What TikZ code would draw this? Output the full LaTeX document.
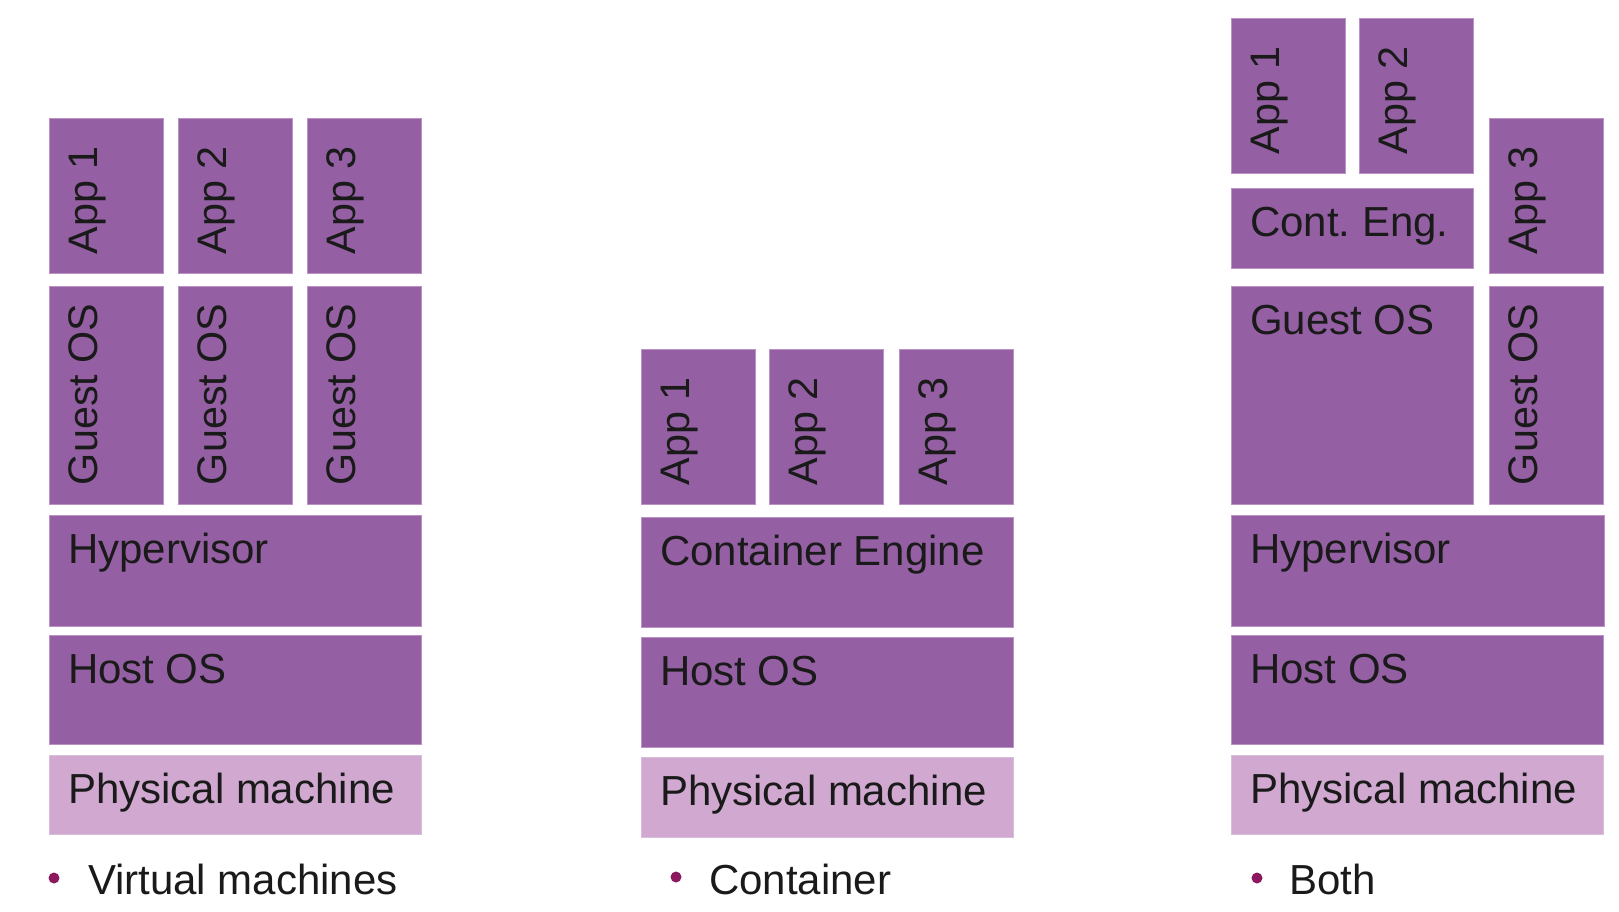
\documentclass[tikz,border=0pt]{standalone}
\usepackage{fontspec}
\setmainfont{Liberation Sans}
\frenchspacing
\definecolor{vmdark}{RGB}{149,96,163}
\definecolor{vmlight}{RGB}{208,168,208}
\definecolor{vmedge}{RGB}{186,146,196}
\definecolor{vmtext}{RGB}{26,26,26}
\definecolor{vmbullet}{RGB}{140,24,94}
\newcommand\layerbox[7]{%
  \node[#6, anchor=north west, minimum width=#4bp-#2bp, minimum height=#5bp-#3bp] (#1) at (#2,#3) {};
  \node[lbl, anchor=base west] (#1t) at ([xshift=19bp,yshift=-48bp]#1.north west) {#7};}
\newcommand\vlayerbox[7]{%
  \node[#6, anchor=north west, minimum width=#4bp-#2bp, minimum height=#5bp-#3bp] (#1) at (#2,#3) {};
  \node[vlbl, rotate=90, anchor=base west] (#1t) at ([xshift=48bp,yshift=19bp]#1.south west) {#7};}
\begin{document}
\begin{tikzpicture}[x=1bp,y=-1bp,
  dk/.style={fill=vmdark, draw=vmedge, line width=1bp, inner sep=0pt, outer sep=0pt},
  lt/.style={fill=vmlight, draw=vmedge!60!white, line width=1bp, inner sep=0pt, outer sep=0pt},
  lbl/.style={inner sep=0pt, outer sep=0pt, text=vmtext, font=\fontsize{42bp}{50bp}\selectfont},
  vlbl/.style={inner sep=0pt, outer sep=0pt, text=vmtext, font=\fontsize{41.3bp}{50bp}\selectfont},
  bul/.style={circle, fill=vmbullet, inner sep=0pt, minimum size=11bp}]
\useasboundingbox (0,0) rectangle (1619,911);
% ---- Virtual machines
\vlayerbox{la1}{49}{118}{163}{273}{dk}{App 1}
\vlayerbox{la2}{178}{118}{292}{273}{dk}{App 2}
\vlayerbox{la3}{307}{118}{421}{273}{dk}{App 3}
\vlayerbox{lg1}{49}{286}{163}{504}{dk}{Guest OS}
\vlayerbox{lg2}{178}{286}{292}{504}{dk}{Guest OS}
\vlayerbox{lg3}{307}{286}{421}{504}{dk}{Guest OS}
\layerbox{lhy}{49}{515}{421}{626}{dk}{Hypervisor}
\layerbox{lho}{49}{635}{421}{744}{dk}{Host OS}
\layerbox{lph}{49}{755}{421}{834}{lt}{Physical machine}
\node[bul] (lb) at (54,878) {};
\node[lbl, anchor=base west] (lbt) at (88,894) {Virtual machines};
% ---- Container
\vlayerbox{ma1}{641}{349}{755}{504}{dk}{App 1}
\vlayerbox{ma2}{769}{349}{883}{504}{dk}{App 2}
\vlayerbox{ma3}{899}{349}{1013}{504}{dk}{App 3}
\layerbox{mce}{641}{517}{1013}{627}{dk}{Container Engine}
\layerbox{mho}{641}{637}{1013}{747}{dk}{Host OS}
\layerbox{mph}{641}{757}{1013}{837}{lt}{Physical machine}
\node[bul] (mb) at (676,877) {};
\node[lbl, anchor=base west] (mbt) at (709,894) {Container};
% ---- Both
\vlayerbox{ra1}{1231}{18}{1345}{173}{dk}{App 1}
\vlayerbox{ra2}{1359}{18}{1473}{173}{dk}{App 2}
\layerbox{rce}{1231}{188}{1473}{268}{dk}{Cont. Eng.}
\vlayerbox{ra3}{1489}{118}{1603}{273}{dk}{App 3}
\layerbox{rg1}{1231}{286}{1473}{504}{dk}{Guest OS}
\vlayerbox{rg2}{1489}{286}{1603}{504}{dk}{Guest OS}
\layerbox{rhy}{1231}{515}{1604}{626}{dk}{Hypervisor}
\layerbox{rho}{1231}{635}{1603}{744}{dk}{Host OS}
\layerbox{rph}{1231}{755}{1603}{834}{lt}{Physical machine}
\node[bul] (rb) at (1257,878) {};
\node[lbl, anchor=base west] (rbt) at (1289,894) {Both};
\end{tikzpicture}
\end{document}
